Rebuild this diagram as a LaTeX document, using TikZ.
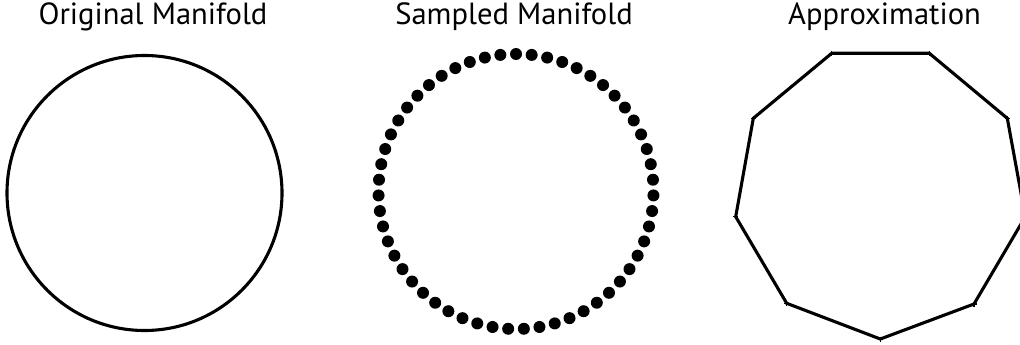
\documentclass[tikz,border=0pt]{standalone}
\usepackage{fontspec}
\setmainfont{PT Sans}
\usetikzlibrary{calc}
\begin{document}
\begin{tikzpicture}[x=1pt,y=-1pt,
  title/.style={anchor=base,inner sep=0pt,font=\fontsize{30.6}{36}\selectfont},
  manifold/.style={circle,draw=black,line width=3.1pt,inner sep=0pt,minimum size=275pt},
  sample/.style={circle,fill=black,inner sep=0pt,minimum size=12pt},
  edge/.style={line width=3.1pt,line join=miter},
  vmark/.style={line width=1.2pt}]
\useasboundingbox (0,0) rectangle (1020,345);
\clip (0,0) rectangle (1020,345);
% titles
\node[title] (t1) at (153,25) {Original Manifold};
\node[title] (t2) at (514,25) {Sampled Manifold};
\node[title] (t3) at (884.5,25) {Approximation};
% original manifold
\node[manifold] (orig) at (144.5,193) {};
% sampled manifold
\coordinate (sc) at (516,191.5);
\foreach \i in {0,...,54}{
  \node[sample] (s\i) at ($(sc)+({90-\i*6.545454}:137.5pt)$) {};
}
% approximation
\coordinate (p1) at (831.7,53.3);
\coordinate (p2) at (929.3,53.3);
\coordinate (p3) at (1007.3,118.3);
\coordinate (p4) at (1025.3,216.7);
\coordinate (p5) at (974,304);
\coordinate (p6) at (880.3,339);
\coordinate (p7) at (786.7,303.3);
\coordinate (p8) at (735.7,216.7);
\coordinate (p9) at (753.3,118.3);
\draw[edge] (p1) -- (p2) -- (p3) -- (p4) -- (p5) -- (p6) -- (p7) -- (p8) -- (p9) -- cycle;
\foreach \p in {p1,p2,p3,p4,p5,p6,p7,p8,p9}{
  \draw[vmark] ($(\p)+(-2.5,0)$) -- ($(\p)+(2.5,0)$);
  \draw[vmark] ($(\p)+(0,-2.5)$) -- ($(\p)+(0,2.5)$);
}
\end{tikzpicture}
\end{document}
